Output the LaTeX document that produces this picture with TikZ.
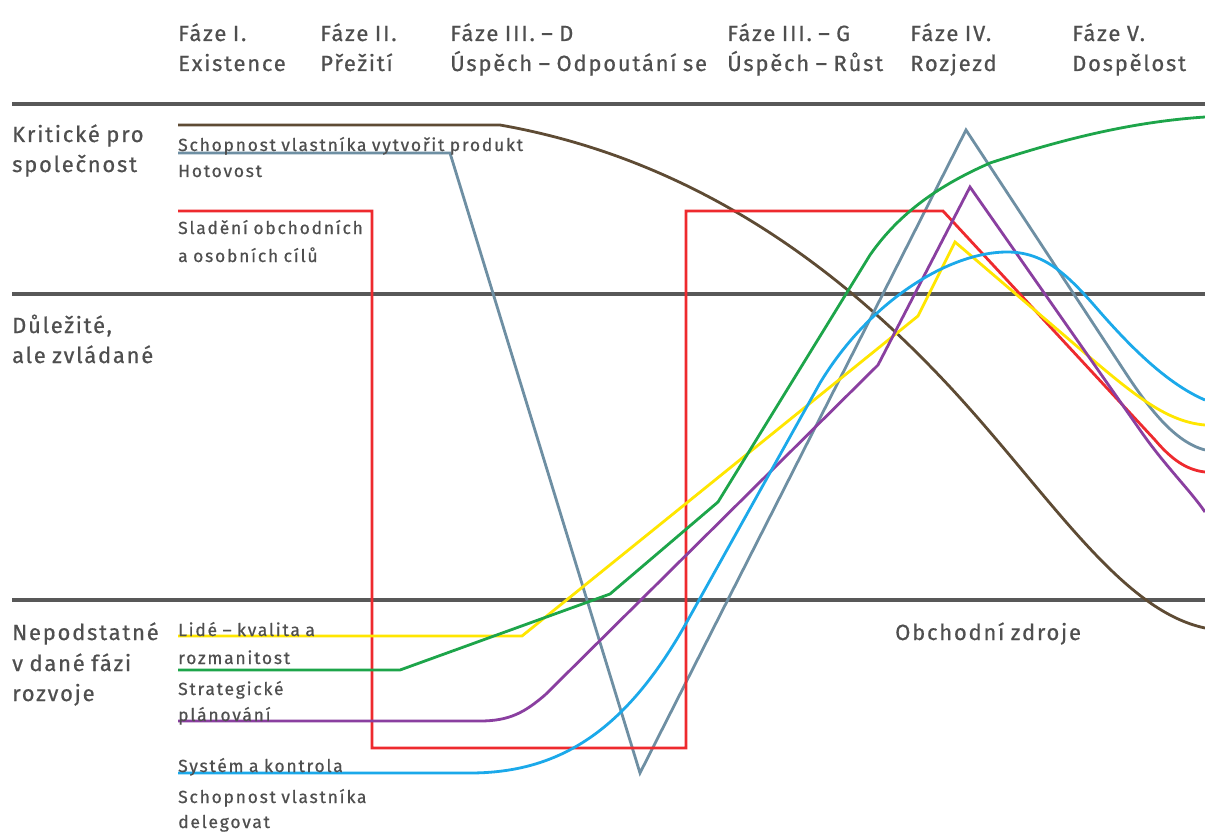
\documentclass[tikz,border=0pt]{standalone}
\usepackage{fontspec}
\newfontfamily\chartfont[LetterSpace=8,WordSpace=0.85,FakeBold=0.6]{Fira Sans}
\newfontfamily\labfont[LetterSpace=10,WordSpace=0.85,FakeBold=0.6]{Fira Sans}
\definecolor{txt}{HTML}{4F4F4F}
\definecolor{rule}{HTML}{585858}
\definecolor{cBrown}{HTML}{5E4B34}
\definecolor{cSteel}{HTML}{6E8FA3}
\definecolor{cRed}{HTML}{EE2A2E}
\definecolor{cYellow}{HTML}{FFE600}
\definecolor{cGreen}{HTML}{1DA54A}
\definecolor{cPurple}{HTML}{8A3FA0}
\definecolor{cCyan}{HTML}{1BA9EA}
\begin{document}
\begin{tikzpicture}[x=1pt,y=-1pt,
  bandline/.style={draw=rule,line width=4pt},
  curve/.style={line width=2.8pt,line join=miter},
  head/.style={anchor=base west,inner sep=0pt,text=txt,font=\chartfont\fontsize{22}{24}\selectfont},
  rowlab/.style={anchor=base west,inner sep=0pt,text=txt,font=\chartfont\fontsize{22}{24}\selectfont},
  curvelab/.style={anchor=base west,inner sep=0pt,text=txt,font=\labfont\fontsize{17.5}{20}\selectfont}]
\useasboundingbox[fill=white] (0,0) rectangle (1205,832);

% band separators
\draw[bandline] (12,104) -- (1205,104);
\draw[bandline] (12,294) -- (1205,294);
\draw[bandline] (12,600) -- (1205,600);

% phase headings
\node[head] (h1a) at (178,41) {Fáze I.};
\node[head] (h1b) at (178,71) {Existence};
\node[head] (h2a) at (320,41) {Fáze II.};
\node[head] (h2b) at (320,71) {Přežití};
\node[head] (h3a) at (450,41) {Fáze III. – D};
\node[head] (h3b) at (450,71) {Úspěch – Odpoutání se};
\node[head] (h4a) at (727,41) {Fáze III. – G};
\node[head] (h4b) at (727,71) {Úspěch – Růst};
\node[head] (h5a) at (910,41) {Fáze IV.};
\node[head] (h5b) at (910,71) {Rozjezd};
\node[head] (h6a) at (1072,41) {Fáze V.};
\node[head] (h6b) at (1072,71) {Dospělost};

% band labels
\node[rowlab] (r1a) at (12,142) {Kritické pro};
\node[rowlab] (r1b) at (12,172) {společnost};
\node[rowlab] (r2a) at (12,333) {Důležité,};
\node[rowlab] (r2b) at (12,363) {ale zvládané};
\node[rowlab] (r3a) at (12,640) {Nepodstatné};
\node[rowlab] (r3b) at (12,671) {v dané fázi};
\node[rowlab] (r3c) at (12,701) {rozvoje};

% business resources
\draw[curve,cBrown] (178,125) -- (500,125)
  .. controls (710,162) and (855,285) .. (950,387)
  .. controls (1050,495) and (1120,610) .. (1205,628);

% cash
\draw[curve,cSteel] (178,153) -- (450,153) -- (640,773) -- (966,130) -- (1125,372)
  .. controls (1150,410) and (1175,442) .. (1205,450);

% alignment of business and personal goals
\draw[curve,cRed] (178,211) -- (372,211) -- (372,748) -- (686,748) -- (686,211) -- (943,211) -- (1155,440)
  .. controls (1172,460) and (1187,470) .. (1205,472);

% people
\draw[curve,cYellow] (178,636) -- (522,636) -- (918,316) -- (955,242) -- (1093,360)
  .. controls (1140,400) and (1170,422) .. (1205,425);

% strategic planning
\draw[curve,cPurple] (178,721) -- (480,721)
  .. controls (510,721) and (525,712) .. (545,695) -- (878,365) -- (970,187) -- (1140,430)
  .. controls (1165,466) and (1190,490) .. (1205,512);

% owner's ability to do
\draw[curve,cGreen] (178,670) -- (400,670) -- (610,594) -- (718,502) -- (870,255)
  .. controls (900,212) and (940,185) .. (990,163)
  .. controls (1060,140) and (1130,122) .. (1205,117);

% systems and controls
\draw[curve,cCyan] (178,773) -- (470,773)
  .. controls (560,773) and (625,730) .. (684,627) -- (820,383)
  .. controls (870,300) and (950,252) .. (1007,252)
  .. controls (1045,252) and (1068,275) .. (1100,312)
  .. controls (1135,352) and (1170,385) .. (1205,400);

% curve labels
\node[curvelab] (l1) at (178,151) {Schopnost vlastníka vytvořit produkt};
\node[curvelab] (l2) at (178,177) {Hotovost};
\node[curvelab] (l3) at (178,234) {Sladění obchodních};
\node[curvelab] (l4) at (178,262) {a osobních cílů};
\node[curvelab] (l5) at (178,636) {Lidé – kvalita a};
\node[curvelab] (l6) at (178,664) {rozmanitost};
\node[curvelab] (l7) at (178,695) {Strategické};
\node[curvelab] (l8) at (178,721) {plánování};
\node[curvelab] (l9) at (178,772) {Systém a kontrola};
\node[curvelab] (l10) at (178,803) {Schopnost vlastníka};
\node[curvelab] (l11) at (178,828) {delegovat};
\node[head] (res) at (895,640) {Obchodní zdroje};
\end{tikzpicture}
\end{document}
